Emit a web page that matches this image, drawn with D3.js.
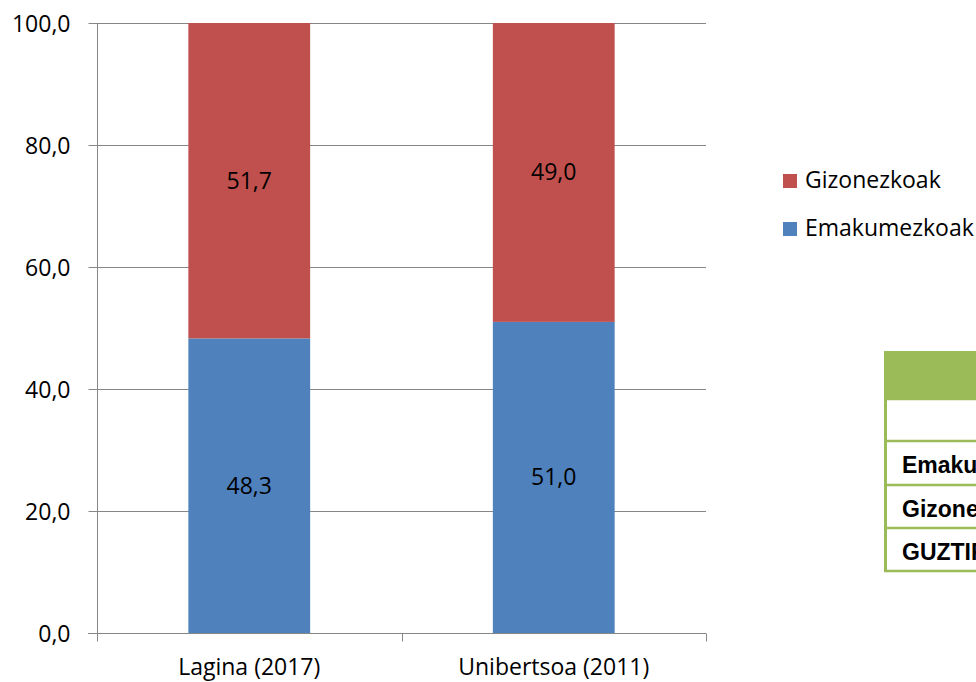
<!DOCTYPE html>
<html>
<head>
<meta charset="utf-8">
<script src="https://cdn.jsdelivr.net/npm/d3@7"></script>
<style>
  html, body { margin: 0; padding: 0; background: #ffffff; }
  svg { display: block; }
</style>
</head>
<body>
<div id="chart"></div>
<script>
// Data
const categories = ['Lagina (2017)', 'Unibertsoa (2011)'];
const emakumezkoak = [48.3, 51.0];
const gizonezkoak = [51.7, 49.0];
const seriesNames = ['Gizonezkoak', 'Emakumezkoak'];
const yTicks = [0, 20, 40, 60, 80, 100];
const tableRows = ['', 'Emakumezkoak', 'Gizonezkoak', 'GUZTIRA'];

const width = 976,
	height = 682;

const colors = {
	'Emakumezkoak' : '#4F81BD',
	'Gizonezkoak'  : '#C0504D',
	'axis'         : '#868686',
	'tableGreen'   : '#9BBB59'
};

const font = "'Open Sans', 'DejaVu Sans', sans-serif";
const fmt = v => d3.format('.1f')(v).replace('.', ',');

const svg = d3.select('#chart').append('svg')
	.attr('width', width)
	.attr('height', height);

// Scales
const x = d3.scaleBand()
	.domain(categories)
	.range([97, 706])
	.paddingInner(0.6)
	.paddingOuter(0.3);

const y = d3.scaleLinear()
	.domain([0, 100])
	.range([633, 23]);

// Gridlines
svg.append('g')
	.selectAll('line')
	.data(yTicks.filter(d => d > 0))
	.enter()
	.append('line')
		.attr('x1', 97)
		.attr('x2', 706)
		.attr('y1', d => Math.round(y(d)) + 0.5)
		.attr('y2', d => Math.round(y(d)) + 0.5)
		.style('stroke', colors.axis)
		.style('stroke-width', 1);

// Stacked data
const stackData = categories.map((c, i) => ({
	cat: c,
	Emakumezkoak: emakumezkoak[i],
	Gizonezkoak: gizonezkoak[i]
}));
const stack = d3.stack().keys(['Emakumezkoak', 'Gizonezkoak']);
const layers = stack(stackData);

const layerG = svg.append('g')
	.selectAll('g')
	.data(layers)
	.enter()
	.append('g')
		.style('fill', d => colors[d.key]);

layerG.selectAll('rect')
	.data(d => d)
	.enter()
	.append('rect')
		.attr('x', d => x(d.data.cat))
		.attr('width', x.bandwidth())
		.attr('y', d => y(d[1]))
		.attr('height', d => y(d[0]) - y(d[1]));

// Value labels
layerG.selectAll('text')
	.data(d => d.map(v => Object.assign({key: d.key}, v)))
	.enter()
	.append('text')
		.attr('x', d => x(d.data.cat) + x.bandwidth() / 2)
		.attr('y', d => (y(d[0]) + y(d[1])) / 2 + 8)
		.attr('text-anchor', 'middle')
		.style('font-family', font)
		.style('font-size', '23px')
		.style('fill', '#000000')
		.text(d => fmt(d[1] - d[0]));

// Y axis
const yAxis = svg.append('g')
	.attr('transform', 'translate(97.5,0)')
	.call(d3.axisLeft(y).tickValues(yTicks).tickSize(9).tickPadding(18).tickFormat(fmt));
yAxis.select('.domain').attr('stroke', colors.axis).attr('d', 'M0,' + y(100) + 'V' + (y(0) + 0.5));
yAxis.selectAll('.tick line').attr('stroke', colors.axis);
yAxis.selectAll('.tick text')
	.style('font-family', font)
	.style('font-size', '23px')
	.style('fill', '#000000')
	.attr('dy', '0.36em');

// X axis
const xAxis = svg.append('g')
	.attr('transform', 'translate(0,633.5)');
xAxis.append('line')
	.attr('x1', 88)
	.attr('x2', 706)
	.style('stroke', colors.axis);
xAxis.selectAll('.xtick')
	.data([0, 1, 2])
	.enter()
	.append('line')
		.attr('class', 'xtick')
		.attr('x1', d => Math.round(x.range()[0] + d * x.step()) + 0.5)
		.attr('x2', d => Math.round(x.range()[0] + d * x.step()) + 0.5)
		.attr('y1', 0)
		.attr('y2', 8)
		.style('stroke', colors.axis);
xAxis.selectAll('.xlabel')
	.data(categories)
	.enter()
	.append('text')
		.attr('class', 'xlabel')
		.attr('x', d => x(d) + x.bandwidth() / 2)
		.attr('y', 41)
		.attr('text-anchor', 'middle')
		.style('font-family', font)
		.style('font-size', '23px')
		.style('fill', '#000000')
		.text(d => d);

// Legend
const legend = svg.append('g')
	.selectAll('g')
	.data(seriesNames)
	.enter()
	.append('g')
		.attr('transform', (d, i) => 'translate(783,' + (174 + i * 48) + ')');
legend.append('rect')
	.attr('width', 14)
	.attr('height', 14)
	.style('fill', d => colors[d]);
legend.append('text')
	.attr('x', 22)
	.attr('y', 14)
	.style('font-family', font)
	.style('font-size', '23px')
	.style('fill', '#000000')
	.text(d => d);

// Table (runs off the right edge, as in the original)
const table = svg.append('g');
const rowTops = [351, 399, 441, 485, 528, 571];
table.append('rect')
	.attr('x', 884)
	.attr('y', rowTops[0])
	.attr('width', width - 884)
	.attr('height', rowTops[1] - rowTops[0])
	.style('fill', colors.tableGreen);
table.selectAll('.hline')
	.data(rowTops.slice(1))
	.enter()
	.append('line')
		.attr('class', 'hline')
		.attr('x1', 884)
		.attr('x2', width)
		.attr('y1', d => d)
		.attr('y2', d => d)
		.style('stroke', colors.tableGreen)
		.style('stroke-width', 2.5);
table.append('line')
	.attr('x1', 885.5)
	.attr('x2', 885.5)
	.attr('y1', rowTops[0])
	.attr('y2', rowTops[5] + 1)
	.style('stroke', colors.tableGreen)
	.style('stroke-width', 3);
table.selectAll('.tlabel')
	.data(tableRows)
	.enter()
	.append('text')
		.attr('class', 'tlabel')
		.attr('x', 902)
		.attr('y', (d, i) => rowTops[i + 1] + 32)
		.style('font-family', "'Liberation Sans', Arial, sans-serif")
		.style('font-weight', 'bold')
		.style('font-size', '23px')
		.style('fill', '#000000')
		.text(d => d);
</script>
</body>
</html>
